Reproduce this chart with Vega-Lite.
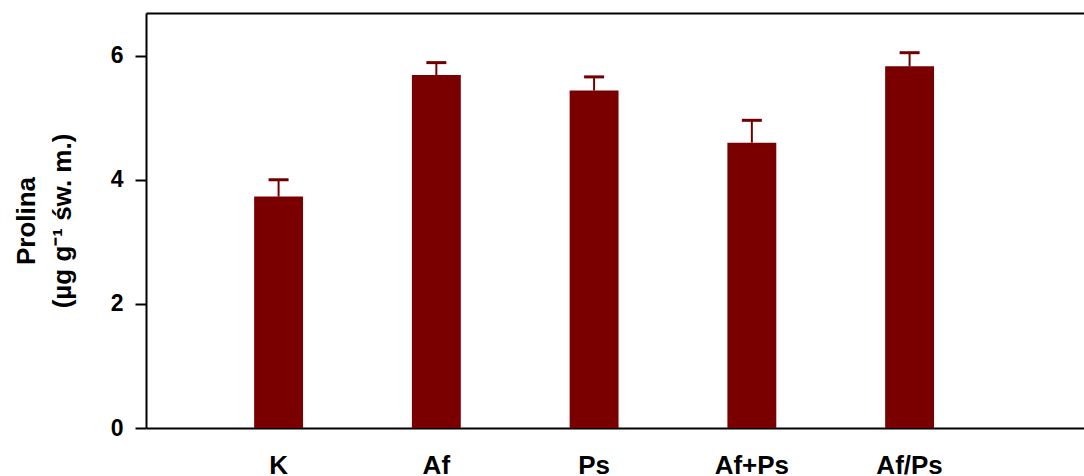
{
  "$schema": "https://vega.github.io/schema/vega-lite/v6.json",
  "autosize": "none",
  "width": 938,
  "height": 415,
  "padding": {"left": 146, "top": 13, "right": 0, "bottom": 48},
  "background": "white",
  "config": {
    "view": {"stroke": null},
    "font": "Liberation Sans",
    "axis": {"grid": false, "domainColor": "black", "domainWidth": 2, "tickColor": "black", "labelColor": "black", "titleColor": "black"}
  },
  "data": {
    "values": [
      {"group": "K", "mean": 3.73, "upper": 4.0},
      {"group": "Af", "mean": 5.69, "upper": 5.89},
      {"group": "Ps", "mean": 5.44, "upper": 5.66},
      {"group": "Af+Ps", "mean": 4.6, "upper": 4.96},
      {"group": "Af/Ps", "mean": 5.83, "upper": 6.05}
    ]
  },
  "layer": [
    {
      "mark": {"type": "bar", "color": "#7a0000"},
      "encoding": {
        "x": {
          "field": "group", "type": "nominal", "sort": null,
          "scale": {"paddingInner": 0.69, "paddingOuter": 0.818, "align": 0.419},
          "axis": {"orient": "bottom", "title": null, "labelAngle": 0, "ticks": false, "labelPadding": 24, "labelFontSize": 26, "labelFontWeight": "bold", "labelBaseline": "top"}
        },
        "y": {
          "field": "mean", "type": "quantitative",
          "scale": {"domain": [0, 6.69], "nice": false, "zero": true},
          "axis": {
            "values": [0, 2, 4, 6], "format": "d", "tickSize": 11, "tickWidth": 2, "labelPadding": 12,
            "labelFontSize": 23, "labelFontWeight": "bold",
            "title": ["Prolina", "(µg g⁻¹ św. m.)"],
            "titleFontSize": 26, "titleFontWeight": "bold", "titleLineHeight": 36, "titlePadding": 35
          }
        }
      }
    },
    {
      "mark": {"type": "rule", "color": "#700000", "strokeWidth": 2},
      "encoding": {
        "x": {"field": "group", "type": "nominal", "sort": null, "axis": {"orient": "top", "title": null, "labels": false, "ticks": false, "domainWidth": 2}},
        "y": {"field": "mean", "type": "quantitative"},
        "y2": {"field": "upper"}
      }
    },
    {
      "mark": {"type": "tick", "color": "#700000", "thickness": 3, "size": 20, "opacity": 1},
      "encoding": {
        "x": {"field": "group", "type": "nominal", "sort": null, "axis": null},
        "y": {"field": "upper", "type": "quantitative"}
      }
    }
  ],
  "resolve": {"axis": {"x": "independent"}}
}
